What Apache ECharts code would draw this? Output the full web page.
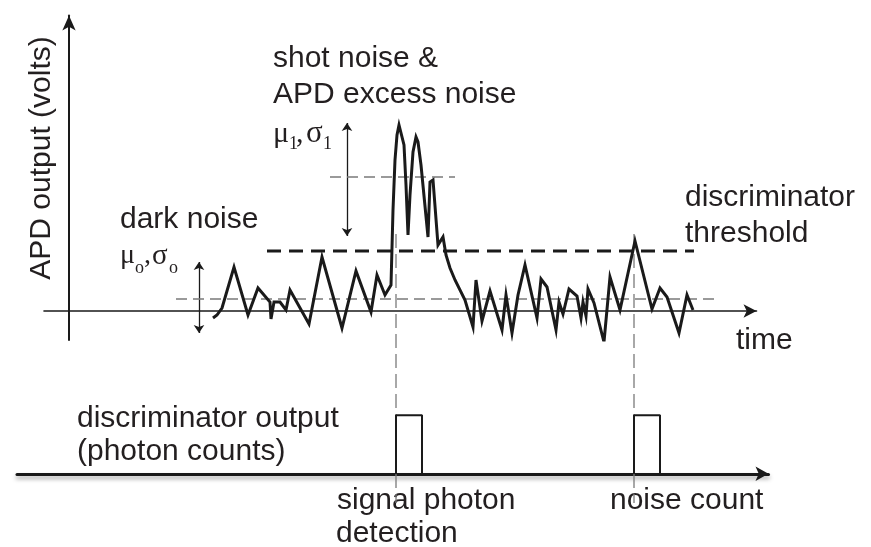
<!DOCTYPE html>
<html>
<head>
<meta charset="utf-8">
<style>
  html, body { margin: 0; padding: 0; background: #fff; }
  #chart { width: 871px; height: 547px; }
</style>
<script src="https://cdn.jsdelivr.net/npm/echarts@6/dist/echarts.min.js"></script>
</head>
<body>
<div id="chart"></div>
<script>
// APD output trace: time (arbitrary units, origin at the voltage axis) and voltage (0 = baseline)
const noiseTime = [144,148,153,165,179,189,201,202,205,211,217,221,240,253,273,287,302,308,316,322,
  324,326,328,330,332,335,337,339,341,344,347,349,352,359,361,364,369,374,377,381,
  386,396,404,407,413,421,433,437,443,449,456,468,472,478,487,490,494,500,508,512,
  514,517,519,525,535,541,551,566,583,591,598,610,618,624];
const noiseVolts = [-7,-4,3,44,-4,23,9,-8,9,9,1,21,-13,54,-17,40,-1,36,16,26,
  101,151,176,186,185,166,126,76,116,159,174,169,146,74,129,131,66,74,56,43,
  31,11,-16,31,-10,20,-19,16,-22,16,46,-7,32,24,-19,9,-3,22,15,-7,
  9,-5,22,8,-31,34,1,70,2,23,14,-22,16,1];

// levels
const thresholdVolts = 60;
const thresholdSpan = [198, 625];
const darkMean = 12;
const darkMeanSpan = [107, 646];
const darkSigmaSpan = [-22, 49];
const darkSigmaTime = 130;
const signalMean = 134;
const signalMeanSpan = [261, 386];
const signalSigmaSpan = [75, 188];
const signalSigmaTime = 278;

// threshold crossings -> discriminator counts
const countTimes = [327, 565];
const countMarkerTop = [77, 77];
const countMarkerBottom = -192;
const pulseWidth = 26;
const pulseHeight = 1;

const ink = '#1a1a1a';
const textInk = '#231f20';
const gray = '#7a7a7a';
const sans = '"Liberation Sans", Arial, Helvetica, sans-serif';
const serif = '"Liberation Serif", "Times New Roman", serif';

const trace = noiseTime.map((t, i) => [t, noiseVolts[i]]);

const pulseSeries = countTimes.map(t => ({
  type: 'line', xAxisIndex: 1, yAxisIndex: 1, symbol: 'none', silent: true,
  lineStyle: { color: ink, width: 2 },
  data: [[t, 0], [t, pulseHeight], [t + pulseWidth, pulseHeight], [t + pulseWidth, 0]]
}));

const markerSeries = countTimes.map((t, i) => ({
  type: 'line', xAxisIndex: 0, yAxisIndex: 0, symbol: 'none', silent: true, clip: false,
  lineStyle: { color: gray, width: 1.3, type: [14, 6] },
  data: [[t, countMarkerTop[i]], [t, countMarkerBottom]]
}));

function levelLine(y, span, style) {
  return {
    type: 'line', xAxisIndex: 0, yAxisIndex: 0, symbol: 'none', silent: true, clip: false,
    lineStyle: style, data: [[span[0], y], [span[1], y]]
  };
}

function label(text, x, y, extra) {
  return {
    type: 'text', x: x, y: y, silent: true,
    style: Object.assign({ text: text, font: '30px ' + sans, fill: textInk, verticalAlign: 'middle', align: 'left' }, extra || {})
  };
}
function glyph(text, x, y, size) {
  return {
    type: 'text', x: x, y: y, silent: true,
    style: { text: text, font: size + 'px ' + serif, fill: textInk, verticalAlign: 'middle', align: 'left' }
  };
}

const hiddenAxisParts = { axisTick: { show: false }, axisLabel: { show: false }, splitLine: { show: false } };

const axisTitle = label('APD output (volts)', 42, 158, { align: 'center', font: '30px ' + sans });
axisTitle.rotation = Math.PI / 2;

const option = {
  animation: false,
  backgroundColor: '#fff',
  grid: [
    { left: 44, right: 114.5, top: 15.5, bottom: 207 },
    { left: 17, right: 102.5, top: 380, height: 167 }
  ],
  xAxis: [
    Object.assign({ type: 'value', gridIndex: 0, min: -25, max: 687.5,
      axisLine: { show: true, onZero: true, symbol: ['none', 'arrow'], symbolSize: [10, 13],
        lineStyle: { color: ink, width: 1.6 } } }, hiddenAxisParts),
    Object.assign({ type: 'value', gridIndex: 1, min: -52, max: 699.5,
      axisLine: { show: true, onZero: true, symbol: ['none', 'arrow'], symbolSize: [11, 13],
        lineStyle: { color: ink, width: 3, shadowColor: 'rgba(0,0,0,0.35)', shadowBlur: 4, shadowOffsetY: 3 } } }, hiddenAxisParts)
  ],
  yAxis: [
    Object.assign({ type: 'value', gridIndex: 0, min: -29, max: 295.5,
      axisLine: { show: true, onZero: true, symbol: ['none', 'arrow'], symbolSize: [10, 15],
        lineStyle: { color: ink, width: 2 } } }, hiddenAxisParts),
    Object.assign({ type: 'value', gridIndex: 1, min: -1.25, max: 1.6, axisLine: { show: false } }, hiddenAxisParts)
  ],
  series: [
    levelLine(darkMean, darkMeanSpan, { color: gray, width: 1.3, type: [11, 6] }),
    levelLine(signalMean, signalMeanSpan, { color: gray, width: 1.3, type: [11, 6] }),
    ...markerSeries,
    levelLine(thresholdVolts, thresholdSpan, { color: ink, width: 3, type: [14, 8] }),
    {
      type: 'lines', coordinateSystem: 'cartesian2d', xAxisIndex: 0, yAxisIndex: 0, silent: true,
      symbol: ['arrow', 'arrow'], symbolSize: 8,
      lineStyle: { color: ink, width: 1.3, opacity: 1 },
      data: [
        { coords: [[darkSigmaTime, darkSigmaSpan[1]], [darkSigmaTime, darkSigmaSpan[0]]] },
        { coords: [[signalSigmaTime, signalSigmaSpan[1]], [signalSigmaTime, signalSigmaSpan[0]]] }
      ]
    },
    {
      type: 'line', xAxisIndex: 0, yAxisIndex: 0, symbol: 'none', silent: true,
      lineStyle: { color: ink, width: 3, join: 'miter', miterLimit: 8 },
      data: trace
    },
    ...pulseSeries
  ],
  graphic: [
    axisTitle,
    label('shot noise &', 273, 59),
    label('APD excess noise', 273, 95),
    glyph('μ', 273, 134, 30), glyph('1', 289, 144, 18), glyph(',', 296, 134, 30),
    glyph('σ', 306, 134, 31), glyph('1', 323, 144, 18),
    label('dark noise', 120, 220),
    glyph('μ', 120, 256, 28), glyph('o', 135, 268, 18), glyph(',', 144, 256, 28),
    glyph('σ', 152, 256, 29), glyph('o', 169, 268, 18),
    label('discriminator', 685, 198),
    label('threshold', 685, 234),
    label('time', 736, 341),
    label('discriminator output', 77, 419),
    label('(photon counts)', 77, 452),
    label('signal photon', 337, 501),
    label('detection', 336, 534),
    label('noise count', 610, 501)
  ]
};

const chart = echarts.init(document.getElementById('chart'), null, { renderer: 'canvas' });
chart.setOption(option);
</script>
</body>
</html>
